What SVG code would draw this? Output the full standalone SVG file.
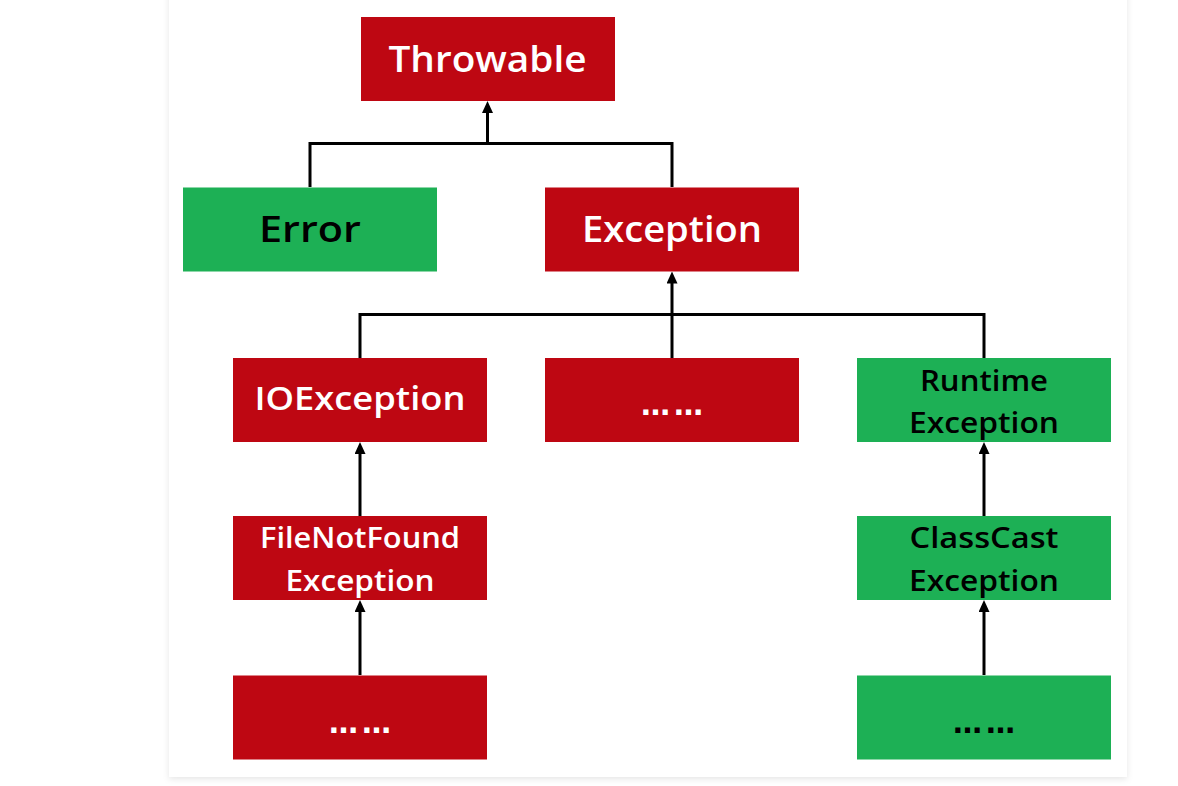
<svg xmlns="http://www.w3.org/2000/svg" width="1178" height="786" viewBox="0 0 1178 786">
<defs>
<filter id="shadow" x="-5%" y="-5%" width="110%" height="110%">
<feDropShadow dx="0" dy="2" stdDeviation="3" flood-color="#000" flood-opacity="0.10"/>
</filter>
<marker id="arrow" viewBox="0 0 12 11" markerWidth="12" markerHeight="11" refX="7" refY="5.5" orient="auto" markerUnits="userSpaceOnUse">
<path d="M0,0 L12,5.5 L0,11 Z" fill="#000"/>
</marker>
<style>
.red{fill:#BE0712}
.green{fill:#1DB055}
.t{font-family:"Open Sans","Noto Sans","DejaVu Sans",sans-serif;font-weight:600;text-anchor:middle}
.w{fill:#fff}
.b{fill:#000}
.big{font-size:36px}
.mid{font-size:32px}
.sm{font-size:28px}
.dots{font-family:"DejaVu Sans",sans-serif;font-weight:bold;font-size:29px;letter-spacing:4px;text-anchor:middle}
.line{fill:none;stroke:#000;stroke-width:3}
</style>
</defs>
<rect x="0" y="0" width="1178" height="786" fill="#fff"/>
<rect x="169" y="-10" width="958" height="787" fill="#fff" filter="url(#shadow)"/>

<g id="connectors">
<path class="line" d="M310,187 V143.5 H672 V187"/>
<path class="line" d="M487.5,143.5 V106" marker-end="url(#arrow)"/>
<path class="line" d="M360,358 V314.5 H984 V358"/>
<path class="line" d="M672,358 V276.5" marker-end="url(#arrow)"/>
<path class="line" d="M360,516 V447" marker-end="url(#arrow)"/>
<path class="line" d="M360,675 V605" marker-end="url(#arrow)"/>
<path class="line" d="M984,516 V447" marker-end="url(#arrow)"/>
<path class="line" d="M984,675 V605" marker-end="url(#arrow)"/>
</g>

<g id="throwable">
<rect class="red" x="361" y="17" width="254" height="84"/>
<text class="t w big" x="487.5" y="72" textLength="198" lengthAdjust="spacingAndGlyphs">Throwable</text>
</g>
<g id="error">
<rect class="green" x="183" y="187.5" width="254" height="84"/>
<text class="t b big" x="310" y="241.5" textLength="102" lengthAdjust="spacingAndGlyphs">Error</text>
</g>
<g id="exception">
<rect class="red" x="545" y="187.5" width="254" height="84"/>
<text class="t w big" x="672" y="241.5" textLength="180" lengthAdjust="spacingAndGlyphs">Exception</text>
</g>
<g id="ioexception">
<rect class="red" x="233" y="358" width="254" height="84"/>
<text class="t w mid" x="360" y="410" textLength="211" lengthAdjust="spacingAndGlyphs">IOException</text>
</g>
<g id="other">
<rect class="red" x="545" y="358" width="254" height="84"/>
<text class="dots w" x="674" y="415">……</text>
</g>
<g id="runtime">
<rect class="green" x="857" y="358" width="254" height="84"/>
<text class="t b sm" x="984" y="391" textLength="128" lengthAdjust="spacingAndGlyphs">Runtime</text>
<text class="t b sm" x="984" y="433" textLength="150" lengthAdjust="spacingAndGlyphs">Exception</text>
</g>
<g id="filenotfound">
<rect class="red" x="233" y="516" width="254" height="84"/>
<text class="t w sm" x="360" y="548" textLength="200" lengthAdjust="spacingAndGlyphs">FileNotFound</text>
<text class="t w sm" x="360" y="591" textLength="149" lengthAdjust="spacingAndGlyphs">Exception</text>
</g>
<g id="classcast">
<rect class="green" x="857" y="516" width="254" height="84"/>
<text class="t b sm" x="984" y="548" textLength="149" lengthAdjust="spacingAndGlyphs">ClassCast</text>
<text class="t b sm" x="984" y="591" textLength="150" lengthAdjust="spacingAndGlyphs">Exception</text>
</g>
<g id="ioe-more">
<rect class="red" x="233" y="675.5" width="254" height="84"/>
<text class="dots w" x="362" y="733">……</text>
</g>
<g id="cce-more">
<rect class="green" x="857" y="675.5" width="254" height="84"/>
<text class="dots b" x="986" y="733">……</text>
</g>
</svg>
